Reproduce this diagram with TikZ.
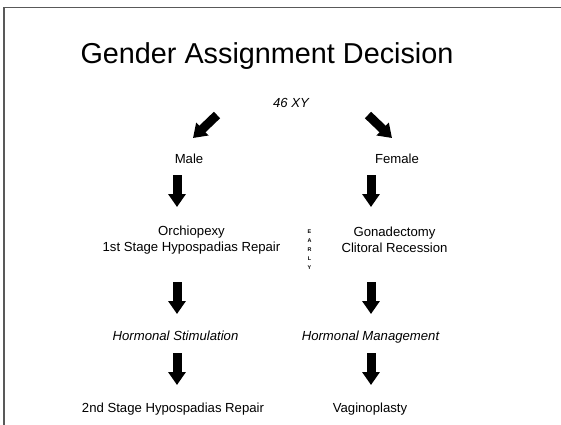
\documentclass[tikz,border=0pt]{standalone}
\usepackage{fontspec}
\setmainfont{Liberation Sans}
\usetikzlibrary{arrows.meta}
\begin{document}
\begin{tikzpicture}[x=1pt,y=-1pt,
  txt/.style={inner sep=0pt,anchor=base,font=\fontsize{13.15}{16}\selectfont},
  itxt/.style={txt,font=\fontsize{13.15}{16}\selectfont\itshape},
  mtxt/.style={inner sep=0pt,anchor=center,align=center,font=\fontsize{13.15}{16}\selectfont},
  blk/.style={line width=9pt,-{Triangle[length=13pt,width=17pt]}},
  frame/.style={draw=black!65,line width=1.4pt}]
\useasboundingbox (0,0) rectangle (561,424);
\fill[white] (0,0) rectangle (561,424);
\draw[frame] (4,430) -- (4,7.5) -- (565,7.5);

\node[inner sep=0pt,anchor=base,font=\fontsize{28.8}{34}\selectfont] (title) at (267,63.3) {Gender Assignment Decision};
\node[itxt] (xy) at (291,107) {46 XY};
\node[txt] (male) at (189,163) {Male};
\node[txt] (female) at (397,163) {Female};
\node[mtxt] (orch) at (191.5,240) {Orchiopexy\\1st Stage Hypospadias Repair};
\node[mtxt] (gon) at (394.5,240) {Gonadectomy\\Clitoral Recession};
\node[inner sep=0pt,anchor=center,align=center,font=\fontsize{5.4}{9}\selectfont\bfseries] (early) at (309.5,249.5) {E\\A\\R\\L\\Y};
\node[itxt] (hs) at (175.5,340.7) {Hormonal Stimulation};
\node[itxt] (hm) at (370.5,340.7) {Hormonal Management};
\node[txt] (hyp2) at (173,412) {2nd Stage Hypospadias Repair};
\node[txt] (vag) at (370,412) {Vaginoplasty};

% diagonal arrows
\draw[blk] ([xshift=-74pt,yshift=-8pt]xy.base) -- ([xshift=4pt,yshift=25pt]male.base);
\draw[blk] ([xshift=77pt,yshift=-8pt]xy.base) -- ([xshift=-5pt,yshift=25pt]female.base);
% male column
\draw[blk] ([xshift=-12pt,yshift=-12pt]male.base) -- ([xshift=-14.5pt,yshift=33pt]orch.center);
\draw[blk] ([xshift=-14.5pt,yshift=-42pt]orch.center) -- ([xshift=1.5pt,yshift=26.7pt]hs.base);
\draw[blk] ([xshift=1.5pt,yshift=-12.3pt]hs.base) -- ([xshift=4pt,yshift=27pt]hyp2.base);
% female column
\draw[blk] ([xshift=-26pt,yshift=-12pt]female.base) -- ([xshift=-23.5pt,yshift=33pt]gon.center);
\draw[blk] ([xshift=-23.5pt,yshift=-42pt]gon.center) -- ([xshift=0.5pt,yshift=26.7pt]hm.base);
\draw[blk] ([xshift=0.5pt,yshift=-12.3pt]hm.base) -- ([xshift=1pt,yshift=27pt]vag.base);
\end{tikzpicture}
\end{document}
